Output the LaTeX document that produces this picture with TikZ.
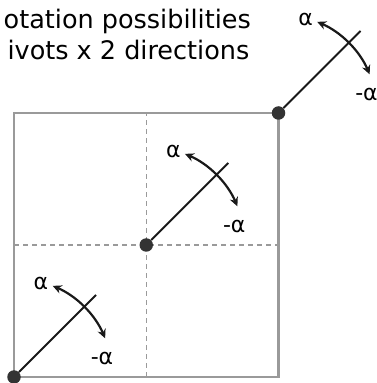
\documentclass[tikz,border=0pt]{standalone}
\usepackage{fontspec}
\setmainfont{DejaVu Sans}
\usetikzlibrary{arrows.meta,calc}
\definecolor{framegray}{HTML}{9A9A9A}
\definecolor{dotgray}{HTML}{333333}
\begin{document}
\begin{tikzpicture}[x=1pt,y=1pt,
  frame/.style={draw=framegray, line width=2.4pt},
  guide/.style={draw=framegray, line width=1.3pt, dash pattern=on 4.5pt off 4.5pt},
  arm/.style={draw=black!90, line width=1.8pt},
  rot/.style={draw=black!90, line width=2.2pt, {Stealth[length=9pt,width=8.5pt]}-{Stealth[length=9pt,width=8.5pt]}},
  dot/.style={circle, fill=dotgray, minimum size=13.5pt, inner sep=0pt},
  lbl/.style={inner sep=0pt, font=\fontsize{22}{26}\selectfont},
  title/.style={inner sep=0pt, anchor=base east, font=\fontsize{25.5}{30}\selectfont}]
\useasboundingbox (0,0) rectangle (376,383);
\fill[white] (0,0) rectangle (376,383);
\coordinate (SW) at (14,6);
\coordinate (NE) at (278.5,270);
\coordinate (M) at (146.25,138);
\draw[guide] (M |- SW) -- (M |- NE);
\draw[guide] (SW |- M) -- (NE |- M);
\draw[frame] (SW) rectangle (NE);
\foreach \n/\p in {a/SW, b/M, c/NE} {
  \node[dot] (\n dot) at (\p) {};
  \coordinate (\n end) at ($(\p)+(45:116)$);
  \draw[arm] (\n dot) -- (\n end);
  \draw[rot] ($(\p)+(67:99)$) arc[start angle=67, end angle=23, radius=99];
  \node[lbl] (\n pos) at ($(\p)+(27,94)$) {α};
  \node[lbl] (\n neg) at ($(\p)+(88,19)$) {-α};
}
\node[title] (t1) at (251,354.7) {otation possibilities};
\node[title] (t2) at (249.5,323) {ivots x 2 directions};
\end{tikzpicture}
\end{document}
